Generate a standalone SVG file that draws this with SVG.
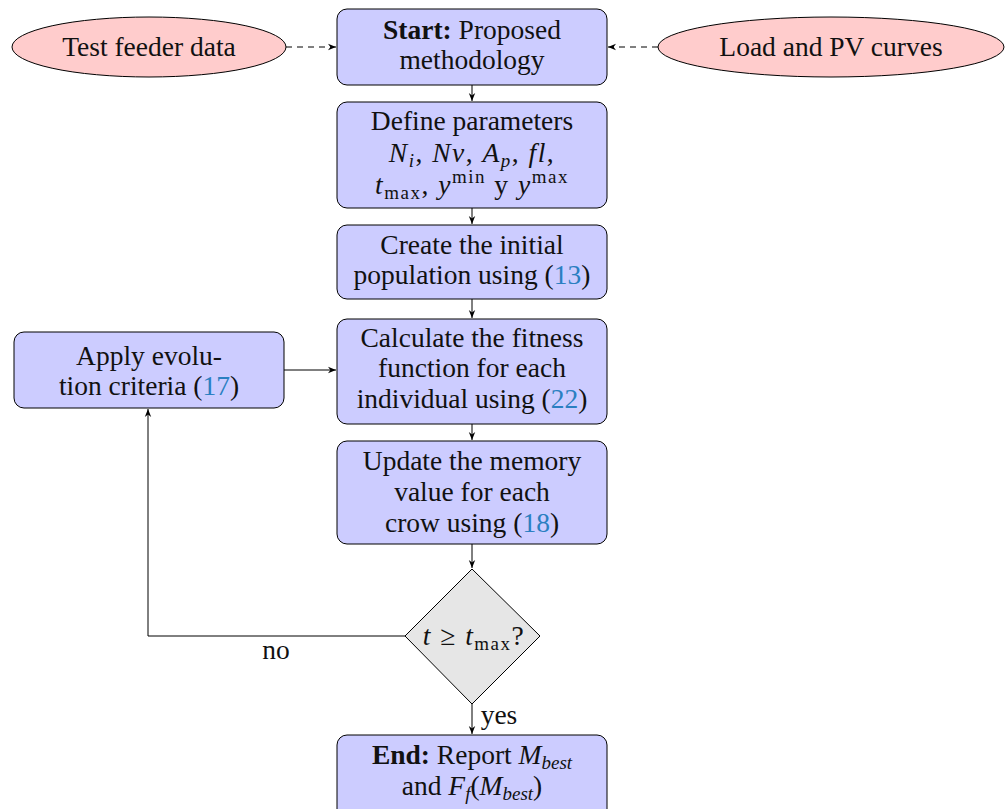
<svg xmlns="http://www.w3.org/2000/svg" width="1006" height="809" viewBox="0 0 1006 809">
<style>
.box{fill:#ccccff;stroke:#000;stroke-width:1}
.ell{fill:#ffcccc;stroke:#000;stroke-width:1}
.dia{fill:#e6e6e6;stroke:#000;stroke-width:1}
.t{font-family:"Liberation Serif","DejaVu Serif",serif;font-size:27.5px;fill:#111;text-anchor:middle}
.i{font-style:italic}
.b{font-weight:bold}
.l{fill:#2a7fc1}
.s{font-size:19px}
.m{letter-spacing:1.5px}
.c{fill:none;stroke:#000;stroke-width:1}
.d{stroke-dasharray:6,5}
</style>
<defs>
<marker id="ah" viewBox="0 0 10 10" refX="10" refY="5" markerWidth="8" markerHeight="8" orient="auto" markerUnits="userSpaceOnUse">
<path d="M0,1 L10,5 L0,9 L3,5 Z" fill="#000"/>
</marker>
</defs>
<g id="connectors">
<line class="c d" x1="286" y1="47" x2="336" y2="47" marker-end="url(#ah)"/>
<line class="c d" x1="658" y1="47" x2="608" y2="47" marker-end="url(#ah)"/>
<line class="c" x1="472" y1="85" x2="472" y2="101" marker-end="url(#ah)"/>
<line class="c" x1="472" y1="208" x2="472" y2="224" marker-end="url(#ah)"/>
<line class="c" x1="472" y1="299" x2="472" y2="318" marker-end="url(#ah)"/>
<line class="c" x1="472" y1="424" x2="472" y2="440" marker-end="url(#ah)"/>
<line class="c" x1="472" y1="544" x2="472" y2="568" marker-end="url(#ah)"/>
<line class="c" x1="472" y1="704" x2="472" y2="734" marker-end="url(#ah)"/>
<line class="c" x1="284" y1="370" x2="336" y2="370" marker-end="url(#ah)"/>
<polyline class="c" points="405,636 148,636 148,409" marker-end="url(#ah)"/>
<text class="t" x="276" y="659">no</text>
<text class="t" x="499" y="724">yes</text>
</g>
<g id="test-feeder">
<ellipse class="ell" cx="149" cy="47" rx="137" ry="30"/>
<text class="t" x="149" y="56">Test feeder data</text>
</g>
<g id="load-pv">
<ellipse class="ell" cx="831" cy="47" rx="173" ry="30"/>
<text class="t" x="831" y="56">Load and PV curves</text>
</g>
<g id="start">
<rect class="box" x="337" y="9" width="270" height="76" rx="10"/>
<text class="t" x="472" y="39"><tspan class="b">Start:</tspan> Proposed</text>
<text class="t" x="472" y="69">methodology</text>
</g>
<g id="define">
<rect class="box" x="337" y="102" width="270" height="106" rx="10"/>
<text class="t" x="472" y="130">Define parameters</text>
<text class="t m" x="472" y="162"><tspan class="i">N</tspan><tspan class="i s" dy="5">i</tspan><tspan dy="-5">, </tspan><tspan class="i">Nv</tspan>, <tspan class="i">A</tspan><tspan class="i s" dy="5">p</tspan><tspan dy="-5">, </tspan><tspan class="i">fl</tspan>,</text>
<text class="t m" x="472" y="194"><tspan class="i">t</tspan><tspan class="s" dy="5">max</tspan><tspan dy="-5">, </tspan><tspan class="i">y</tspan><tspan class="s" dy="-11">min</tspan><tspan dy="11"> y </tspan><tspan class="i">y</tspan><tspan class="s" dy="-11">max</tspan></text>
</g>
<g id="create">
<rect class="box" x="337" y="225" width="270" height="74" rx="10"/>
<text class="t" x="472" y="254">Create the initial</text>
<text class="t" x="472" y="284">population using (<tspan class="l">13</tspan>)</text>
</g>
<g id="calculate">
<rect class="box" x="337" y="319" width="270" height="105" rx="10"/>
<text class="t" x="472" y="347">Calculate the fitness</text>
<text class="t" x="472" y="377">function for each</text>
<text class="t" x="472" y="408">individual using (<tspan class="l">22</tspan>)</text>
</g>
<g id="apply">
<rect class="box" x="14" y="332" width="270" height="76" rx="10"/>
<text class="t" x="149" y="365">Apply evolu-</text>
<text class="t" x="149" y="395">tion criteria (<tspan class="l">17</tspan>)</text>
</g>
<g id="update">
<rect class="box" x="337" y="441" width="270" height="103" rx="10"/>
<text class="t" x="472" y="470">Update the memory</text>
<text class="t" x="472" y="501">value for each</text>
<text class="t" x="472" y="532">crow using (<tspan class="l">18</tspan>)</text>
</g>
<g id="decision">
<polygon class="dia" points="472,569 540,636 472,704 405,636"/>
<text class="t m" x="474" y="645"><tspan class="i">t</tspan> ≥ <tspan class="i">t</tspan><tspan class="s" dy="5">max</tspan><tspan dy="-5">?</tspan></text>
</g>
<g id="end">
<rect class="box" x="337" y="735" width="270" height="84" rx="10"/>
<text class="t" x="472" y="764"><tspan class="b">End:</tspan> Report <tspan class="i">M</tspan><tspan class="i s" dy="5">best</tspan></text>
<text class="t" x="472" y="795">and <tspan class="i">F</tspan><tspan class="i s" dy="5">f</tspan><tspan dy="-5">(</tspan><tspan class="i">M</tspan><tspan class="i s" dy="5">best</tspan><tspan dy="-5">)</tspan></text>
</g>
</svg>
